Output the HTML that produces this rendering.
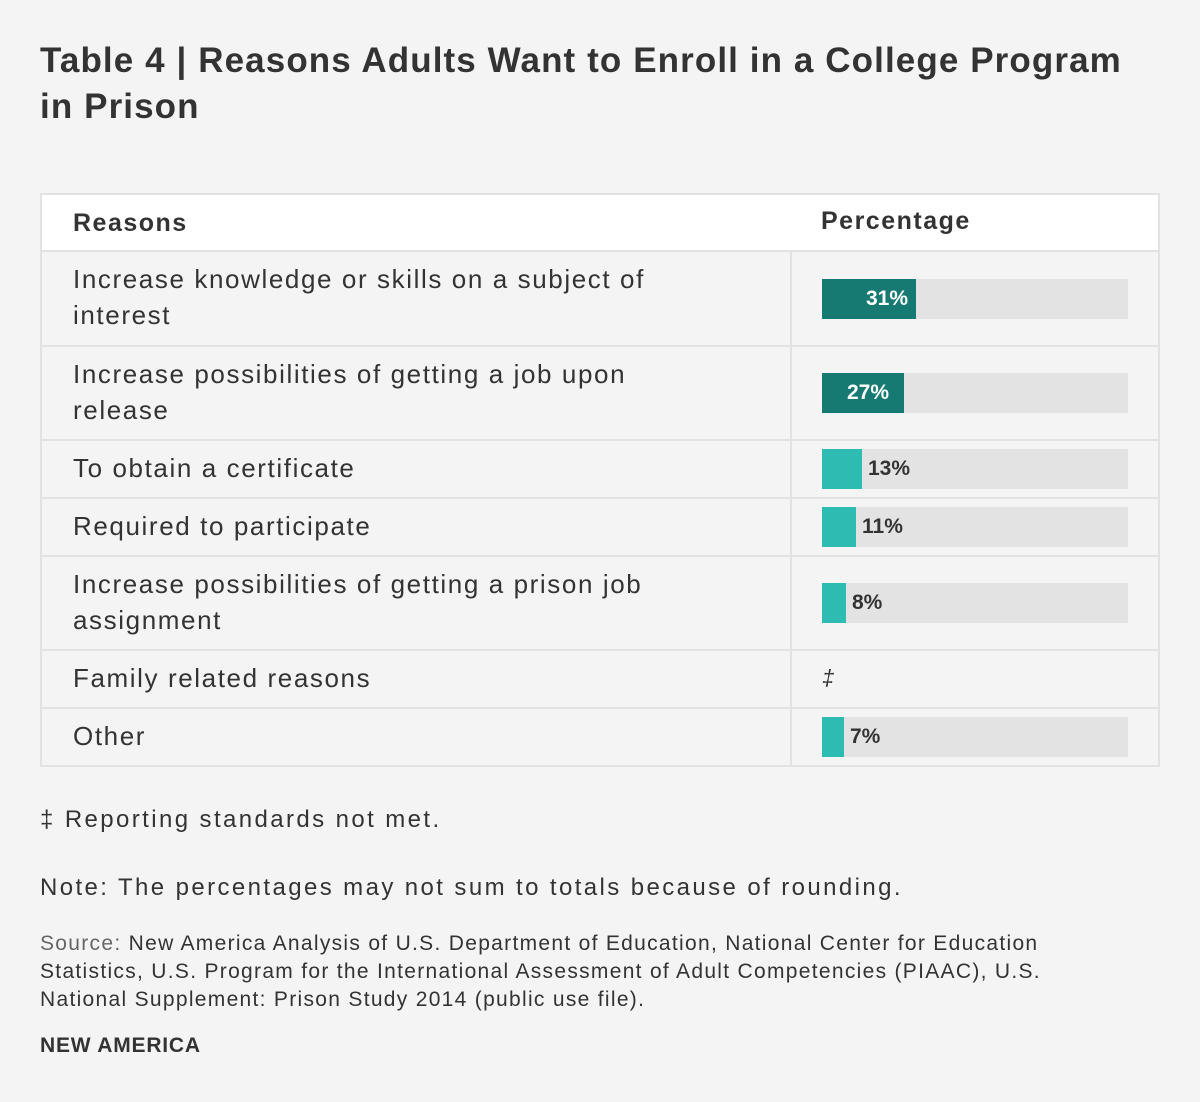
<!DOCTYPE html>
<html><head><meta charset="utf-8"><style>
*{margin:0;padding:0;box-sizing:border-box}
body{width:1200px;height:1102px;background:#f4f4f4;font-family:"Liberation Sans",sans-serif;color:#333;position:relative;overflow:hidden}
h1{position:absolute;left:40px;top:38px;width:1115px;font-size:35px;line-height:46px;font-weight:bold;color:#333;letter-spacing:1.1px}
.tbl{position:absolute;left:40px;top:193px;width:1120px;border:2px solid #e2e2e2}
.row{position:relative;border-top:2px solid #e2e2e2;display:flex}
.row:first-child{border-top:none;background:#fff}
.c1{width:750px;padding-left:31px;font-size:26px;line-height:36px;letter-spacing:1.6px;border-right:2px solid #e2e2e2;display:flex;align-items:center}
.c1 span{max-width:640px;display:block;margin-top:-3px}
.c2{flex:1;position:relative}
.hd{font-weight:bold;font-size:25px;letter-spacing:1.5px}
.track{position:absolute;left:30px;top:50%;margin-top:-20px;width:306px;height:40px;background:#e3e3e3}
.bar{position:absolute;left:0;top:0;height:40px}
.lab{position:absolute;top:0;line-height:40px;font-size:21px;font-weight:bold}
.p{position:absolute;left:40px;font-size:24px;letter-spacing:2.4px;color:#333}
</style></head><body>
<h1>Table 4 | Reasons Adults Want to Enroll in a College Program in Prison</h1>
<div class="tbl">
<div class="row" style="height:55px"><div class="c1 hd" style="border-right:none">Reasons</div><div class="c2"><span class="hd" style="position:absolute;left:29px;top:12px">Percentage</span></div></div>
<div class="row" style="height:95px"><div class="c1"><span>Increase knowledge or skills on a subject of interest</span></div><div class="c2"><div class="track"><div class="bar" style="width:94px;background:#167a72"></div><span class="lab" style="left:44px;color:#fff">31%</span></div></div></div>
<div class="row" style="height:94px"><div class="c1"><span>Increase possibilities of getting a job upon release</span></div><div class="c2"><div class="track"><div class="bar" style="width:82px;background:#167a72"></div><span class="lab" style="left:25px;color:#fff">27%</span></div></div></div>
<div class="row" style="height:58px"><div class="c1"><span>To obtain a certificate</span></div><div class="c2"><div class="track"><div class="bar" style="width:40px;background:#2ebcb2"></div><span class="lab" style="left:46px;color:#333">13%</span></div></div></div>
<div class="row" style="height:58px"><div class="c1"><span>Required to participate</span></div><div class="c2"><div class="track"><div class="bar" style="width:34px;background:#2ebcb2"></div><span class="lab" style="left:40px;color:#333">11%</span></div></div></div>
<div class="row" style="height:94px"><div class="c1"><span>Increase possibilities of getting a prison job assignment</span></div><div class="c2"><div class="track"><div class="bar" style="width:24px;background:#2ebcb2"></div><span class="lab" style="left:30px;color:#333">8%</span></div></div></div>
<div class="row" style="height:58px"><div class="c1"><span>Family related reasons</span></div><div class="c2"><span style="position:absolute;left:30px;top:14px;font-size:22px;font-style:italic">‡</span></div></div>
<div class="row" style="height:58px"><div class="c1"><span>Other</span></div><div class="c2"><div class="track"><div class="bar" style="width:22px;background:#2ebcb2"></div><span class="lab" style="left:28px;color:#333">7%</span></div></div></div>
</div>
<div class="p" style="top:806px">‡ Reporting standards not met.</div>
<div class="p" style="top:874px">Note: The percentages may not sum to totals because of rounding.</div>
<div class="p" style="top:930px;font-size:21px;line-height:28px;width:1080px;letter-spacing:1.3px"><span style="color:#666">Source:</span> New America Analysis of U.S. Department of Education, National Center for Education Statistics, U.S. Program for the International Assessment of Adult Competencies (PIAAC), U.S. National Supplement: Prison Study 2014 (public use file).</div>
<div class="p" style="top:1034px;font-size:21px;font-weight:bold;letter-spacing:0.8px">NEW AMERICA</div>
</body></html>
